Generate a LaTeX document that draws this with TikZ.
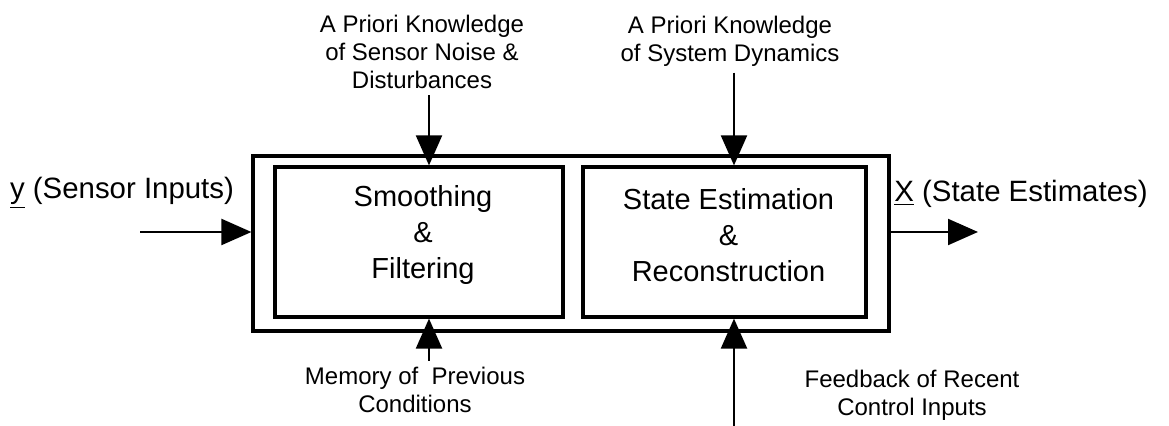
\documentclass[tikz,border=0pt]{standalone}
\usepackage{fontspec}
\setmainfont{Liberation Sans}
\usetikzlibrary{arrows.meta,calc}
\tikzset{
  outerBox/.style={draw, line width=1.6pt, minimum width=318pt,
                   minimum height=87.5pt, inner sep=0pt},
  innerBox/.style={draw, line width=1.6pt, minimum height=75pt, inner sep=0pt},
  boxTxt/.style={font=\fontsize{14.5}{18}\selectfont, align=center, inner sep=0pt},
  sideLbl/.style={font=\fontsize{14.7}{18}\selectfont, inner sep=0pt},
  noteLbl/.style={font=\fontsize{12}{14}\selectfont, align=center, inner sep=3pt},
  flowArr/.style={line width=1.1pt, -{Triangle[length=15pt, width=13pt]}},
}
\begin{document}
\begin{tikzpicture}[x=0.5pt, y=-0.5pt]
\useasboundingbox (0,0) rectangle (1169,426);

% ========== BLOCKS ==========
\node[outerBox] (chain) at (571,243.5) {};
\node[innerBox, minimum width=144pt] (sf) at (419,242) {};
\node[innerBox, minimum width=141.5pt] (se) at (724.5,242) {};
\node[boxTxt, yshift=3.5pt, xshift=2pt] (sfTxt) at (sf.center)
  {Smoothing\\\&\\Filtering};
\node[boxTxt, yshift=3.5pt, xshift=2pt] (seTxt) at (se.center)
  {State Estimation\\\&\\Reconstruction};

% ========== INPUT / OUTPUT ==========
\node[sideLbl] (yLbl) at (122,193) {\underline{y} (Sensor Inputs)};
\node[sideLbl] (xLbl) at (1021,194) {\underline{X} (State Estimates)};
\coordinate (yIn) at (140,232);
\coordinate (xOut) at (978,232);
\draw[flowArr] (yIn) -- (yIn -| chain.west);
\draw[flowArr] (xOut -| chain.east) -- (xOut);

% ========== SIDE INFLUENCES ==========
\node[noteLbl] (apNoise) at (422,52)
  {A Priori Knowledge\\of Sensor Noise \&\\Disturbances};
\node[noteLbl] (apDyn) at (730,41)
  {A Priori Knowledge\\of System Dynamics};
\node[noteLbl] (memPrev) at (415,390)
  {Memory of~ Previous\\Conditions};
\node[noteLbl] (fbCtrl) at (912,395)
  {Feedback of Recent\\Control Inputs};
\coordinate (sfAx) at (429,0);
\coordinate (seAx) at (734,0);
\coordinate (fbFoot) at (734,426);

\draw[flowArr] (apNoise.south -| sfAx) -- (sf.north -| sfAx);
\draw[flowArr] (apDyn.south -| seAx) -- (se.north -| seAx);
\draw[flowArr] (memPrev.north -| sfAx) -- (sf.south -| sfAx);
\draw[flowArr] (fbFoot) -- (se.south -| seAx);

\end{tikzpicture}
\end{document}
